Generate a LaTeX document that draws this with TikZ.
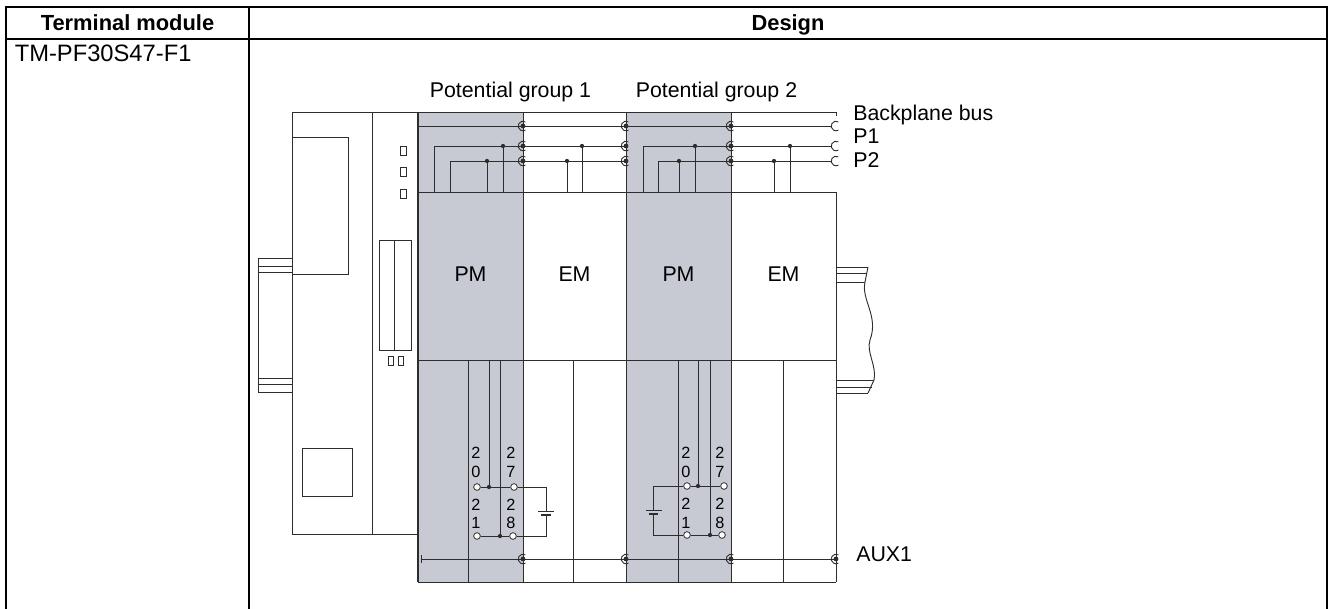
\documentclass[tikz,border=0pt]{standalone}
\usepackage{fontspec}
\setmainfont{Liberation Sans}
\definecolor{pmgray}{RGB}{200,202,211}
\definecolor{dgray}{RGB}{45,45,45}
\begin{document}
\begin{tikzpicture}[x=.75pt,y=-.75pt,
  tbl/.style={line width=1.5pt,line cap=rect},
  part/.style={draw=dgray,line width=.7pt},
  lead/.style={draw=dgray,line width=.65pt},
  lbl/.style={inner sep=0pt,anchor=base,font=\fontsize{16}{19}\selectfont},
  head/.style={inner sep=0pt,anchor=base,font=\fontsize{16.4}{19}\selectfont\bfseries},
  pin/.style={inner sep=0pt,anchor=base,font=\fontsize{12.2}{14}\selectfont},
  term/.style={draw=dgray,fill=white,line width=.6pt,circle,inner sep=0pt,minimum size=5pt}]
\useasboundingbox (0,0) rectangle (1329,608);
% table
\draw[tbl](6,608)--(6,7)--(1327,7)--(1327,608);
\draw[tbl](6,39)--(1327,39);
\draw[tbl](249,7)--(249,608);
\node[head] (hmod) at (127.5,30) {Terminal module};
\node[head] (hdes) at (788,30) {Design};
\node[inner sep=0pt,anchor=base west,font=\fontsize{17.8}{20}\selectfont] (tm) at (14.5,61) {TM-PF30S47-F1};
% potential modules
\fill[pmgray](418,112) rectangle (523,582);
\fill[pmgray](626,112) rectangle (731,582);
% interface module
\draw[part](292,112) rectangle (418,534);
\draw[part](372,112)--(372,534);
\draw[part](292,137) rectangle (348,274);
\draw[part](302,448) rectangle (352,496);
\draw[part](258,258)--(292,258) (258,266)--(292,266) (258,272)--(292,272);
\draw[part](258,378)--(292,378) (258,384)--(292,384) (258,392)--(292,392);
\draw[part](258,258)--(258,392);
\foreach \y in {146,167,189}
  \draw[part,line width=.5pt](400,\y) rectangle (406,\y+9);
\draw[part](379,240) rectangle (411,350);
\draw[part](394,240)--(394,350);
\draw[part,line width=.5pt](388,356) rectangle (393,365);
\draw[part,line width=.5pt](398,356) rectangle (403,365);
% rail
\draw[part](836,267)--(868,267) (836,273)--(867,273) (836,282)--(865,282);
\draw[part](836,380)--(874,380) (836,387)--(872,387) (836,393)--(868,393);
\draw[part](868,267)--(865,282) .. controls (861,300) and (879,316) .. (870,340)
  .. controls (866,352) and (877,366) .. (874,380)--(868,393);
% module outlines
\draw[part](418,112)--(836,112) (836,112)--(836,116);
\draw[part](418,192)--(836,192);
\draw[part](418,360)--(836,360);
\draw[part](418,582)--(836,582);
\draw[part,line width=.9pt](418,112)--(418,582);
\foreach \x in {523,626,731}
  \draw[part](\x,112)--(\x,582);
\draw[part](836,192)--(836,582);
\foreach \x in {468,573,678,783}
  \draw[part](\x,360)--(\x,582);
% backplane bus, P1, P2
\draw[lead](418,126)--(832,126);
\draw[lead](434,192)|-(626,146);
\draw[lead](450,192)|-(626,161);
\draw[lead](643,192)|-(832,146);
\draw[lead](658,192)|-(832,161);
\foreach \x in {503,582,695,790}{
  \draw[lead](\x,146)--(\x,192);
  \fill[dgray](\x,146) circle[radius=1.6pt];}
\foreach \x in {487,567,679,774}{
  \draw[lead](\x,161)--(\x,192);
  \fill[dgray](\x,161) circle[radius=1.6pt];}
\foreach \y in {126,146,161}{
  \foreach \x in {523,626,731}{
    \draw[part]([shift={(60:3.6pt)}]\x,\y) arc[start angle=60,end angle=300,radius=3.6pt];
    \fill[dgray](\x,\y) circle[radius=1.8pt];}
  \draw[part]([shift={(60:3.6pt)}]836,\y) arc[start angle=60,end angle=300,radius=3.6pt];}
% AUX1
\draw[lead](421,555)--(421,563);
\draw[lead](421,559)--(836,559);
\foreach \x in {523,626,731,836}{
  \draw[part]([shift={(60:3.6pt)}]\x,559) arc[start angle=60,end angle=300,radius=3.6pt];
  \fill[dgray](\x,559) circle[radius=1.8pt];}
% terminals group 1
\node[term] (a20) at (477,487) {};
\node[term] (a27) at (514,487) {};
\node[term] (a21) at (477,536) {};
\node[term] (a28) at (513,536) {};
\draw[lead](a20)--(a27);
\draw[lead](a21)--(a28);
\draw[lead](489,360)--(489,487);
\draw[lead](500,360)--(500,536);
\fill[dgray](489,487) circle[radius=1.6pt];
\fill[dgray](500,536) circle[radius=1.6pt];
\draw[lead](a27)-|(546,511);
\draw[lead](a28)-|(546,515);
\draw[lead](538,511)--(554,511);
\draw[dgray,line width=1.6pt](541,515)--(551,515);
% terminals group 2
\node[term] (b20) at (687,486) {};
\node[term] (b27) at (724,486) {};
\node[term] (b21) at (687,535) {};
\node[term] (b28) at (722,535) {};
\draw[lead](b20)--(b27);
\draw[lead](b21)--(b28);
\draw[lead](698,360)--(698,486);
\draw[lead](710,360)--(710,535);
\fill[dgray](698,486) circle[radius=1.6pt];
\fill[dgray](710,535) circle[radius=1.6pt];
\draw[lead](b20)-|(653,510);
\draw[lead](b21)-|(653,514);
\draw[lead](646,510)--(662,510);
\draw[dgray,line width=1.6pt](649,514)--(658,514);
% pin numbers
\foreach \d/\y in {2/458,0/477,2/510,1/528} \node[pin] at (476,\y) {\d};
\foreach \d/\y in {2/458,7/477,2/510,8/528} \node[pin] at (511,\y) {\d};
\foreach \d/\y in {2/458,0/477,2/509,1/528} \node[pin] at (686,\y) {\d};
\foreach \d/\y in {2/458,7/477,2/509,8/528} \node[pin] at (720,\y) {\d};
% labels
\node[lbl] (pg1) at (510.5,97) {Potential group 1};
\node[lbl] (pg2) at (716.5,97) {Potential group 2};
\node[lbl,anchor=base west] (bus) at (853,120) {Backplane bus};
\node[lbl,anchor=base west] (p1) at (853,143.5) {P1};
\node[lbl,anchor=base west] (p2) at (853,167) {P2};
\node[lbl,anchor=base west] (aux) at (856,561) {AUX1};
\node[lbl] (pm1) at (470.5,281) {PM};
\node[lbl] (em1) at (574.5,281) {EM};
\node[lbl] (pm2) at (678.5,281) {PM};
\node[lbl] (em2) at (783.5,281) {EM};
\end{tikzpicture}
\end{document}
